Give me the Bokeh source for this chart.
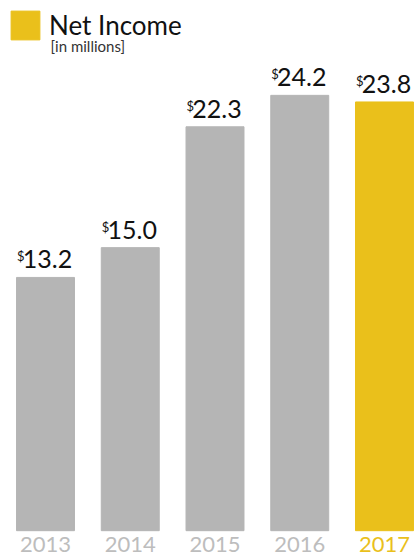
from bokeh.plotting import figure
from bokeh.models import ColumnDataSource, Range1d, Legend, LegendItem, Label
from bokeh.core.properties import value
from bokeh.embed import file_html
from bokeh.resources import INLINE

years = ["2013", "2014", "2015", "2016", "2017"]
income = [13.2, 15.0, 22.3, 24.2, 23.8]
value_labels = ["13.2", "15.0", "22.3", "24.2", "23.8"]

GRAY = "#b5b5b5"
GOLD = "#eac01b"
bar_colors = [GRAY, GRAY, GRAY, GRAY, GOLD]
year_colors = ["#bdbdbd", "#bdbdbd", "#bdbdbd", "#bdbdbd", GOLD]
BASE = -2.1
FONT = "Lato"

xs = list(range(len(years)))
src = ColumnDataSource(dict(x=xs, top=income, color=bar_colors, lab=value_labels,
                            year=years, ycol=year_colors,
                            base=[BASE] * len(xs), dollar=["$"] * len(xs)))

p = figure(width=414, height=556, output_backend="svg", toolbar_location=None,
           x_range=Range1d(-0.531, 4.354), y_range=Range1d(-3.66, 29.93),
           min_border=0, outline_line_color=None)
p.axis.visible = False
p.grid.visible = False
p.background_fill_color = "white"
p.border_fill_color = "white"

bars = p.vbar(x="x", top="top", bottom=BASE, width=0.684, color="color", source=src)

p.text(x="x", y="top", text="lab", source=src, text_align="center",
       text_baseline="alphabetic", y_offset=-18, x_offset=2,
       text_font=value(FONT), text_font_size="25px", text_color="#111111")
p.text(x="x", y="top", text="dollar", source=src, text_align="right",
       text_baseline="alphabetic", y_offset=-21, x_offset=-21,
       text_font=value(FONT), text_font_size="13px", text_color="#111111")
p.text(x="x", y="base", text="year", source=src, text_align="center",
       text_baseline="alphabetic", y_offset=14, x_offset=0,
       text_font=value(FONT), text_font_size="22px", text_color="ycol")

legend_src = p.vbar(x=[4], top=[0], bottom=[0], width=0, color=GOLD, visible=False)
legend = Legend(items=[LegendItem(label="Net Income", renderers=[legend_src])],
                location="top_left", margin=7, padding=14,
                glyph_width=36, glyph_height=36, label_standoff=6,
                label_text_font=FONT, label_text_font_size="26px",
                label_text_color="#111111", border_line_color=None,
                background_fill_alpha=0)
p.add_layout(legend, "center")

p.add_layout(Label(x=50, y=511, x_units="screen", y_units="screen",
                   text="[in millions]", text_font=FONT, text_font_size="15px",
                   text_color="#333333", text_baseline="alphabetic"))

open("out.html", "w").write(file_html(p, INLINE))
